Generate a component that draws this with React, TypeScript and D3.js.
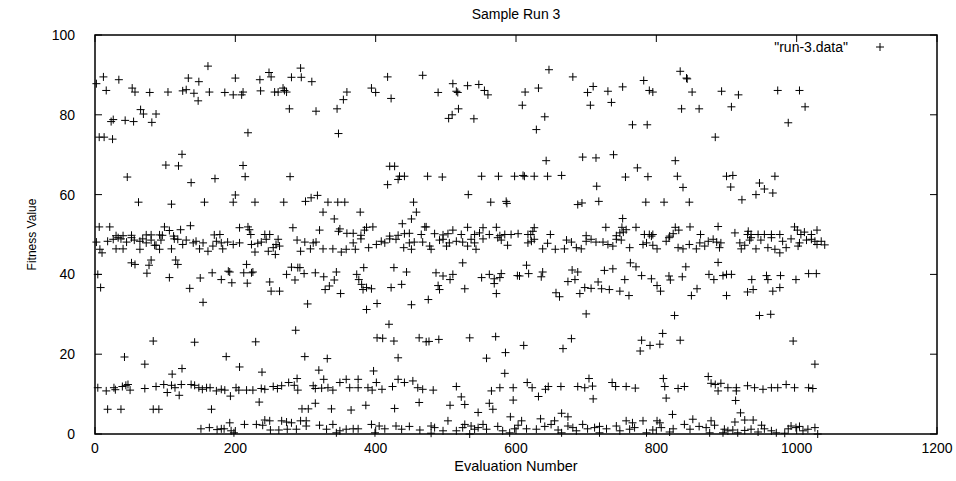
import React from 'react';
import * as d3 from 'd3';

// [evaluation number, fitness value], grouped by band
const highCluster: [number, number][] = [
  [2, 87.8], [6, 74.4], [12, 89.5], [13, 74.4], [16, 86.1], [23, 78.3], [25, 73.9], [26, 78.8], [34, 88.8], [43, 78.6],
  [53, 86.7], [55, 78.3], [57, 85.7], [65, 81.3], [69, 80.2], [78, 85.6], [81, 78.1], [87, 80.2], [104, 85.7], [124, 70.1],
  [125, 86], [130, 86.3], [133, 89.2], [141, 85.4], [147, 83.5], [148, 88.3], [161, 92.2], [163, 85.7],
  [185, 85.6], [197, 85], [200, 89.2], [209, 85], [211, 85.7], [218, 75.5], [235, 88.8], [236, 86], [248, 90.6], [251, 89.5],
  [256, 85.7], [261, 85.7], [268, 86.7], [270, 86.1], [273, 85.7], [277, 81.5], [280, 89.4], [293, 91.7], [294, 89.4],
  [309, 88.3], [315, 80.9], [345, 81.5], [347, 75.3], [354, 83.8],
  [359, 85.7], [394, 86.7], [400, 85.6], [417, 89.5], [422, 84.1], [467, 89.9], [489, 85.6], [504, 79.1], [509, 80],
  [510, 87.8], [515, 85.9], [517, 85.6], [518, 81.5], [531, 87.3],
  [540, 79], [547, 87.6], [555, 86.1], [560, 85], [609, 82.4], [613, 85.7], [629, 76.3], [632, 86.7], [641, 79.5],
  [647, 91.3], [681, 89.5], [702, 85.6], [706, 82.4], [710, 87.1],
  [731, 85.9], [736, 83.1], [752, 87], [766, 77.5], [782, 88.6], [787, 77.5], [790, 86.1], [795, 85.7], [834, 90.9],
  [836, 81.5], [843, 89.2], [844, 89], [851, 85.7], [861, 81.5], [884, 74.4],
  [893, 85.9], [907, 82], [917, 85], [973, 86.1], [988, 78], [1004, 86.1], [1012, 82],
];

const midScatter: [number, number][] = [
  [46, 64.4], [62, 58.1], [101, 67.4], [109, 57.6], [119, 67.2], [137, 63], [156, 58.1], [171, 64],
  [197, 58.1], [200, 59.9], [211, 67.3], [214, 64.5], [228, 58.1], [269, 58.1], [278, 64.5], [300, 58.3], [308, 59.2],
  [317, 59.8], [325, 55.6], [332, 58.1], [341, 53.9], [346, 58.1],
  [356, 58.1], [378, 55.6], [417, 62.5], [420, 67.1], [427, 67.1], [432, 63.8], [434, 64.6], [438, 52.7], [441, 64.6],
  [451, 53.9], [454, 58.1], [458, 55.6], [474, 64.6], [495, 64.4], [532, 60],
  [551, 64.6], [564, 58.1], [575, 64.6], [586, 58.3], [587, 57.8], [598, 64.6], [610, 64.8], [612, 64.6], [626, 64.6],
  [643, 68.5], [645, 64.6], [665, 64.8], [688, 57.5], [694, 57.9], [695, 69.4],
  [714, 69.2], [715, 62.1], [718, 58.3], [739, 70], [752, 54], [756, 64.4], [773, 66.7], [785, 58.1], [788, 64.5],
  [811, 58.1], [827, 68.5], [830, 64.6], [838, 61.8], [847, 58.1],
  [900, 64.6], [906, 61.9], [909, 64.8], [922, 58.7], [942, 60], [947, 62.9], [954, 61.4], [966, 60.4], [969, 64.6],
];

const band48: [number, number][] = [
  [6, 51.9], [21, 51.9], [30, 49.7], [40, 49.7], [52, 49.8], [73, 49.9], [80, 49.9], [92, 49.9], [96, 49.8], [99, 51.9],
  [106, 51], [112, 49.6], [122, 51.2], [136, 52.2], [170, 49.9],
  [178, 50], [206, 51.7], [218, 51.9], [220, 51.2], [222, 50], [242, 50], [249, 50], [282, 51.7], [320, 51.1], [347, 50.8], [349, 51.4],
  [359, 50.3], [368, 50.3], [379, 49.8], [387, 51.8], [384, 51.1], [396, 51.9], [420, 49.6], [432, 49.8], [441, 50.2],
  [448, 50.3], [465, 50], [470, 51.9], [472, 51.9], [484, 50.2], [496, 49.9], [503, 50.2], [510, 51.1], [522, 50], [531, 51.8],
  [541, 50], [548, 50.4], [553, 51.7], [562, 50], [572, 51.8], [577, 49.7], [584, 50], [593, 50], [603, 50.2], [617, 50],
  [621, 50], [624, 50.8], [626, 51.7], [649, 50], [700, 49.7],
  [728, 51.8], [743, 49.7], [748, 50.4], [751, 51.8], [753, 50.6], [757, 51.2], [771, 51.8], [783, 50], [790, 50], [795, 50],
  [819, 49.6], [824, 50.2], [827, 51.8], [832, 51.1], [848, 51.9], [863, 50], [888, 52],
  [912, 50.4], [930, 50], [931, 50.8], [935, 50], [945, 50], [954, 50], [964, 50], [976, 50], [997, 51.9], [1001, 51.1],
  [1006, 50], [1011, 50.6], [1021, 50], [1029, 51.1],
  [2, 48.1], [7, 46.3], [10, 45.4], [18, 48.3], [26, 48.8], [30, 46.4], [33, 49.2], [37, 48.9], [40, 46.4], [45, 48.1],
  [52, 49.2], [56, 48.6], [64, 48.3], [64, 46.3], [68, 48.9], [73, 47.9], [80, 48.6], [85, 47.3], [87, 47.3], [92, 46.3],
  [94, 48.6], [109, 46.4], [113, 48.9], [118, 48.8], [125, 47.5], [130, 48.6], [140, 47.9], [144, 48.3], [149, 46.4],
  [154, 47.9], [161, 45.8], [168, 47.1], [173, 48.3],
  [180, 47.9], [182, 46.4], [189, 48.1], [197, 47.5], [206, 47.9], [223, 47.5], [228, 45.6], [232, 47.8], [237, 48.1],
  [244, 48.8], [247, 45.8], [254, 46.7], [257, 45], [258, 47.5], [261, 48.8], [263, 47.1], [288, 48.6], [293, 45.8],
  [299, 48.1], [307, 46.4], [311, 47.9], [315, 48.1], [325, 46.4], [339, 46.4], [351, 45.6],
  [358, 46.3], [368, 47.9], [371, 46.3], [379, 48.9], [390, 46.7], [401, 47.5], [408, 48.3], [413, 47.9], [420, 48.9],
  [429, 48.8], [440, 46.7], [448, 47.9], [451, 46.3], [455, 48.1], [467, 48.1], [477, 47.1], [479, 46.3], [491, 48.6],
  [496, 48.8], [501, 47.1], [505, 47.9], [515, 48.3], [524, 48.1], [531, 47.1],
  [536, 48.8], [541, 47.9], [543, 46.3], [553, 48.9], [574, 49.2], [579, 48.6], [588, 47.3], [617, 47.9], [622, 48.3],
  [626, 48.8], [638, 46.4], [645, 47.8], [656, 46.3], [669, 46.4], [672, 48.6], [679, 48.1], [686, 46.7], [693, 46.4],
  [700, 48.3], [707, 48.8],
  [714, 48.1], [724, 48.1], [731, 47.5], [738, 47.1], [743, 48.8], [750, 48.6], [762, 46.7], [781, 47.5], [786, 47.9],
  [793, 49.6], [795, 47.3], [801, 46.4], [814, 48.3], [818, 49.2], [831, 46.7], [838, 46.4], [847, 47.5], [857, 46.4],
  [862, 47.9], [869, 47.1], [874, 48.3], [881, 48.8], [886, 48.1],
  [890, 46.7], [892, 47.9], [919, 47.9], [921, 46.4], [926, 47.3], [933, 48.6], [935, 49.2], [942, 46.4], [949, 48.6],
  [959, 46.7], [964, 49.2], [969, 46.3], [976, 45.4], [980, 48.3], [985, 46.7], [992, 48.9], [1002, 47.1], [1004, 47.9],
  [1014, 48.6], [1021, 48.8], [1026, 48.3], [1029, 47.5], [1035, 48.3], [1040, 47.4],
];

const lowerScatter: [number, number][] = [
  [4, 40], [8, 36.7], [42, 19.3], [52, 42.9], [57, 42.5], [71, 17.5], [74, 40.3], [77, 42.3], [80, 43.6], [83, 23.3],
  [106, 39.2], [110, 15], [115, 43.6], [118, 42.5], [124, 16.4], [135, 36.5], [142, 23], [150, 39.1], [154, 33], [167, 40.4],
  [180, 38.7], [187, 19.4], [190, 40.8], [192, 40.6], [195, 37.9], [206, 16.8], [212, 40.4], [216, 42.5], [217, 37.8],
  [223, 40.4], [225, 40.6], [229, 23.1], [238, 15.5], [249, 38.1], [251, 35.8], [263, 35.8], [273, 40], [280, 41.8],
  [285, 38.6], [286, 26], [289, 41.7], [292, 41.7], [298, 40.2], [299, 19.4], [303, 32.6], [314, 40.4], [319, 16],
  [326, 39.4], [328, 36.2], [331, 18.9], [334, 37.1], [341, 38.6], [344, 40.6], [350, 35.2],
  [373, 40], [376, 38.7], [380, 37.5], [382, 36.2], [383, 41.7], [387, 36.7], [387, 31.2], [394, 36.4], [397, 15.8],
  [402, 32.7], [402, 24.1], [410, 24], [419, 27.5], [422, 36.7], [426, 41.7], [426, 23.3], [432, 19.1], [437, 37.5],
  [444, 40.6], [451, 32.4], [462, 24.1], [472, 23.1], [475, 33.7], [476, 23.2], [486, 40.4], [489, 37.2], [490, 23.7],
  [491, 36.2], [496, 39.6], [506, 38.7], [510, 40], [524, 42.9], [527, 36.4],
  [534, 24.1], [551, 39.2], [558, 19], [562, 40], [569, 38.9], [569, 37.7], [571, 24.4], [572, 35.2], [577, 39.2],
  [579, 40.2], [584, 15.2], [585, 20.4], [602, 39.7], [605, 39.6], [611, 22.2], [615, 42.3], [618, 40.2], [636, 39.4],
  [638, 40.6], [657, 35.4], [662, 34.4], [667, 21.4], [674, 38.2], [679, 23.9], [680, 41.1], [684, 38.7], [688, 40.6],
  [691, 35.2], [698, 36.7], [700, 30.1], [707, 36.5],
  [717, 38.1], [722, 36.4], [726, 41], [733, 36.2], [738, 41.4], [748, 35.8], [755, 38.7], [761, 34.7], [763, 42.9],
  [771, 41.9], [777, 20.8], [779, 39.7], [779, 23.5], [791, 22.2], [793, 38.9], [801, 37.2], [805, 22.5], [806, 35.8],
  [809, 25.2], [818, 39.6], [820, 38.6], [826, 29.7], [834, 23.5], [837, 39.4], [842, 41.9], [850, 34.7], [858, 36.4],
  [874, 14.4], [875, 40], [882, 38.7], [888, 43],
  [895, 39.7], [900, 40], [900, 34.7], [907, 40], [930, 35.6], [936, 38.7], [938, 36.2], [947, 29.7], [957, 39.7],
  [959, 38.7], [963, 30], [966, 35.8], [976, 36.7], [977, 39.7], [995, 23.3], [999, 38.7], [1017, 40.2], [1026, 17.5],
  [1028, 40.2],
];

const band12: [number, number][] = [
  [4, 11.6], [16, 10.8], [27, 11.6], [29, 11.1], [39, 11.9], [44, 12.2], [47, 12.4], [50, 11], [71, 11.4], [87, 11.9],
  [98, 12.4], [103, 10.4], [109, 12.2], [114, 11.6], [120, 9.7], [123, 12.4], [137, 12.4], [142, 12.2], [148, 11.6],
  [153, 11.2], [159, 11.6], [164, 11.6], [173, 10.8],
  [180, 11.2], [185, 11], [193, 9.5], [201, 11.6], [205, 11], [216, 11], [225, 11], [237, 11.4], [242, 11.2], [254, 11.9],
  [260, 11.4], [266, 12.1], [276, 12.9], [284, 12.2], [288, 13.9], [289, 11], [311, 12.1], [314, 11.4], [323, 11.5],
  [326, 13.7], [332, 11.6], [339, 11], [349, 12.9],
  [358, 13.7], [363, 11.6], [375, 13.7], [375, 11.6], [389, 11.6], [395, 11], [401, 12.9], [409, 11.2], [424, 11.9],
  [432, 13.7], [441, 12.9], [453, 13.3], [460, 11.6], [467, 11.2], [482, 11], [515, 11.9],
  [565, 10.8], [577, 11.6], [596, 11.6], [616, 12.9], [623, 11.6], [642, 11.2], [646, 11.9], [664, 11.9], [688, 11.9],
  [698, 11.6], [704, 13.9], [709, 12],
  [737, 12.9], [742, 11.9], [757, 11.9], [770, 11.5], [810, 13.9], [812, 11.9], [831, 11.4], [840, 11.9], [878, 12.7],
  [884, 12.4], [888, 10.8],
  [892, 12.7], [902, 11.6], [914, 11.6], [914, 10.8], [930, 12.1], [940, 11.6], [952, 11.2], [964, 11.6], [973, 11.6],
  [985, 12.4], [997, 11.6], [1017, 11.6], [1023, 11.4],
];

const floorBand: [number, number][] = [
  [18, 6.2], [37, 6.2], [83, 6.2], [91, 6.2], [151, 1.3], [163, 1.6], [166, 6.2], [174, 1.1],
  [180, 1.3], [184, 1.3], [192, 2.8], [194, 0.8], [198, 0.3], [213, 2.4], [230, 2.4], [234, 8], [239, 2.2], [242, 3.5],
  [249, 3.3], [250, 1], [262, 1], [266, 3.3], [273, 3], [274, 1.2], [280, 2.8], [287, 1.2], [293, 3.3], [295, 6.3],
  [301, 3.3], [301, 2], [304, 6.3], [314, 7.7], [320, 2.2], [330, 1.2], [337, 6.3], [339, 2.4], [344, 0.3], [349, 0.8],
  [358, 1.2], [365, 6], [368, 1.3], [375, 1.3], [386, 7.2], [394, 2.4], [399, 0.3], [405, 2], [413, 1.3], [427, 6.4],
  [429, 2], [437, 1.2], [448, 1.9], [462, 7.9], [463, 1], [479, 2], [479, 0.2], [484, 1.6], [496, 0.8], [503, 3.3],
  [506, 7.2], [515, 0.8], [522, 9.3], [524, 1.6], [527, 7.4], [527, 2.4],
  [534, 0], [536, 2], [541, 1.2], [546, 5.4], [546, 1.6], [553, 2.4], [558, 1.2], [562, 7.7], [567, 6.2], [574, 1.9],
  [581, 0.8], [591, 0.3], [592, 4.3], [596, 8.5], [598, 1.3], [603, 2.2], [608, 3.3], [615, 1.3], [629, 1.2], [632, 9.4],
  [635, 3.8], [641, 1.9], [650, 2.4], [655, 3.3], [660, 1], [665, 5.2], [665, 0.3], [674, 4.3], [674, 2], [681, 1.6],
  [686, 0.8], [695, 2.4], [702, 1.3], [710, 8.8],
  [712, 1.6], [719, 1.9], [719, 0.3], [729, 1.3], [743, 2], [748, 0.8], [757, 3.3], [762, 1.2], [766, 2.8], [769, 1.6],
  [781, 3.3], [786, 0.3], [795, 1], [801, 3.3], [805, 2.8], [807, 1.6], [814, 9], [819, 0.5], [823, 4.9], [824, 1.3],
  [840, 2.4], [848, 1.2], [852, 3.7], [861, 1.9], [871, 1.6], [876, 0.3], [878, 3.3], [883, 2.2],
  [895, 0.3], [897, 1.2], [902, 0.8], [909, 1], [912, 3], [913, 8.4], [916, 0.3], [920, 5.3], [926, 3.5], [926, 0.9],
  [935, 1.2], [938, 3.5], [945, 0.5], [950, 2.2], [954, 1.3], [964, 0.8], [971, 0.3], [983, 0.2], [988, 1.3], [992, 2],
  [999, 1.6], [1004, 1.9], [1009, 0.8], [1016, 1.2], [1026, 1.6], [1030, 0],
];

const xTicks = [0, 200, 400, 600, 800, 1000, 1200];
const yTicks = [0, 20, 40, 60, 80, 100];

const W = 956;
const H = 481;
const margin = { left: 95, right: 19, top: 35, bottom: 47 };
const font = '"Liberation Sans", Arial, Helvetica, sans-serif';

const plus = 'M-4,0H4M0,-4V4';

const App = () => {
  const x = d3.scaleLinear().domain([0, 1200]).range([margin.left, W - margin.right]);
  const y = d3.scaleLinear().domain([0, 100]).range([H - margin.bottom, margin.top]);
  const points = [...highCluster, ...midScatter, ...band48, ...lowerScatter, ...band12, ...floorBand];
  const [x0, x1] = x.range();
  const [y0, y1] = y.range();
  const tick = 7;

  return (
    <svg width={W} height={H} style={{ position: 'absolute', left: 0, top: 0, background: '#fff' }} fontFamily={font}>
      <text x={(x0 + x1) / 2} y={19} textAnchor="middle" fontSize={14}>Sample Run 3</text>

      {yTicks.map(t => (
        <g key={'y' + t}>
          <line x1={x0} x2={x0 + tick} y1={y(t)} y2={y(t)} stroke="#000" />
          <line x1={x1} x2={x1 - tick} y1={y(t)} y2={y(t)} stroke="#000" />
          <text x={x0 - 20} y={y(t)} dy="0.35em" textAnchor="end" fontSize={14}>{t}</text>
        </g>
      ))}
      {xTicks.map(t => (
        <g key={'x' + t}>
          <line x1={x(t)} x2={x(t)} y1={y0} y2={y0 - tick} stroke="#000" />
          <line x1={x(t)} x2={x(t)} y1={y1} y2={y1 + tick} stroke="#000" />
          <text x={x(t)} y={y0 + 19} textAnchor="middle" fontSize={14}>{t}</text>
        </g>
      ))}

      <rect x={x0} y={y1} width={x1 - x0} height={y0 - y1} fill="none" stroke="#000" strokeWidth={1.5} />

      <text x={(x0 + x1) / 2} y={471} textAnchor="middle" fontSize={14.5}>Evaluation Number</text>
      <text transform={`translate(36,${(y0 + y1) / 2}) rotate(-90)`} textAnchor="middle" fontSize={12}>Fitness Value</text>

      <text x={848} y={52} textAnchor="end" fontSize={14}>"run-3.data"</text>
      <path d={plus} transform="translate(880,47)" stroke="#000" fill="none" />

      <g stroke="#000" fill="none">
        {points.map(([e, f], i) => (
          <path key={i} d={plus} transform={`translate(${x(e)},${y(f)})`} />
        ))}
      </g>
    </svg>
  );
};

export default App;
